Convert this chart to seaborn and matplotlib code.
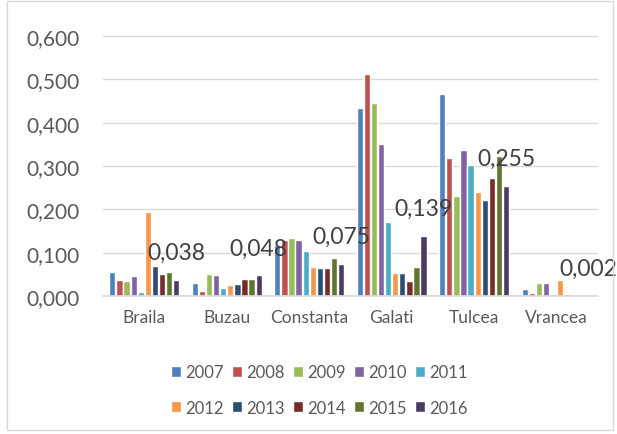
import pandas as pd
import matplotlib.pyplot as plt
import matplotlib.patches as mpatches
from matplotlib.ticker import FuncFormatter, MultipleLocator
import seaborn as sns

counties = ["Braila", "Buzau", "Constanta", "Galati", "Tulcea", "Vrancea"]
years = ["2007", "2008", "2009", "2010", "2011", "2012", "2013", "2014", "2015", "2016"]

# values per year, one entry per county
v2007 = [0.056, 0.030, 0.118, 0.433, 0.466, 0.016]
v2008 = [0.037, 0.012, 0.129, 0.512, 0.318, 0.007]
v2009 = [0.035, 0.050, 0.133, 0.445, 0.232, 0.030]
v2010 = [0.047, 0.048, 0.129, 0.351, 0.337, 0.030]
v2011 = [0.009, 0.019, 0.105, 0.172, 0.302, 0.005]
v2012 = [0.194, 0.026, 0.067, 0.054, 0.241, 0.037]
v2013 = [0.070, 0.029, 0.064, 0.053, 0.221, 0.006]
v2014 = [0.050, 0.039, 0.065, 0.035, 0.273, 0.002]
v2015 = [0.055, 0.040, 0.088, 0.066, 0.324, 0.002]
v2016 = [0.038, 0.048, 0.075, 0.139, 0.255, 0.002]

series = [v2007, v2008, v2009, v2010, v2011, v2012, v2013, v2014, v2015, v2016]
colors = ["#4F81BD", "#C0504D", "#9BBB59", "#8064A2", "#4BACC6",
          "#F79646", "#2C4D75", "#772C2A", "#5F7530", "#4D3B62"]

rows = []
for y, vals in zip(years, series):
    for c, v in zip(counties, vals):
        rows.append({"county": c, "year": y, "value": v})
df = pd.DataFrame(rows)

sns.set_theme(style="white")
plt.rcParams["font.family"] = ["Lato", "DejaVu Sans"]
grey = "#595959"

fig = plt.figure(figsize=(6.17, 4.35), dpi=100)
ax = fig.add_axes([0.167, 0.317, 0.802, 0.598])

sns.barplot(data=df, x="county", y="value", hue="year", palette=colors,
            order=counties, hue_order=years, width=0.86, gap=0.12,
            saturation=1, errorbar=None, ax=ax, legend=True)

ax.set_ylim(0, 0.6)
ax.yaxis.set_major_locator(MultipleLocator(0.1))
ax.yaxis.set_major_formatter(FuncFormatter(lambda v, p: f"{v:.3f}".replace(".", ",")))
ax.grid(axis="y", color="#D9D9D9", linewidth=1)
ax.set_axisbelow(True)
for s in ["top", "right", "left"]:
    ax.spines[s].set_visible(False)
ax.spines["bottom"].set_color("#D9D9D9")
ax.tick_params(axis="y", labelsize=15, labelcolor=grey, length=0, pad=17)
ax.tick_params(axis="x", labelsize=12.5, labelcolor=grey, length=0, pad=9)
ax.set_xlabel("")
ax.set_ylabel("")

# data labels for last series only
last = ax.containers[-1]
ax.bar_label(last, labels=[f"{v:.3f}".replace(".", ",") for v in v2016],
             padding=12, fontsize=16.5, color="#404040")

# legend filled row by row: 2007-2011 on top, 2012-2016 below
handles, labels = ax.get_legend_handles_labels()
ax.legend_.remove()
order = [i + 5 * r for i in range(5) for r in range(2)]
fig.legend([handles[i] for i in order], [labels[i] for i in order], ncol=5,
           loc="center", bbox_to_anchor=(0.518, 0.101), frameon=False, fontsize=12,
           labelcolor=grey, handlelength=0.6, handleheight=0.6, handletextpad=0.25,
           columnspacing=0.5, labelspacing=1.15)

fig.patches.append(mpatches.Rectangle((0.012, 0.01), 0.981, 0.985, transform=fig.transFigure,
                                      fill=False, edgecolor="#D9D9D9", linewidth=1))

fig.savefig("out.png", dpi=100)
